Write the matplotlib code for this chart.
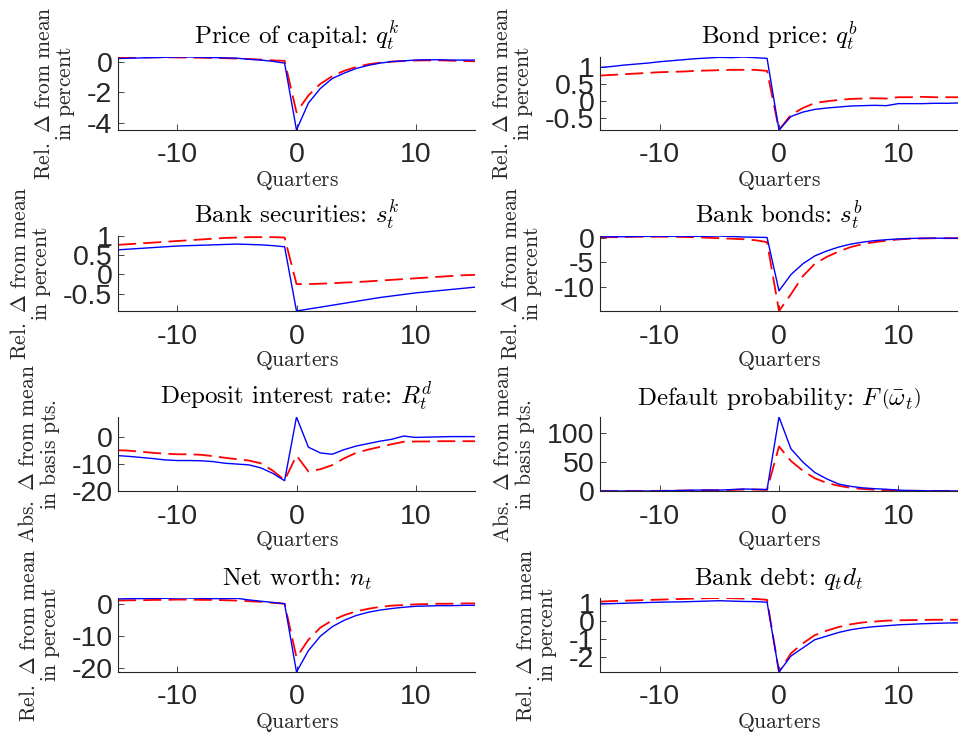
import numpy as np
import matplotlib
matplotlib.use("Agg")
import matplotlib.pyplot as plt

plt.rcParams['mathtext.fontset'] = 'cm'
plt.rcParams['axes.unicode_minus'] = False

quarters = list(range(-15, 16))

qk_blue = [0.2, 0.22, 0.24, 0.26, 0.28, 0.3, 0.3, 0.28, 0.26, 0.24, 0.22, 0.15, 0.1, 0.02, -0.1,
           -4.45, -2.7, -1.75, -1.1, -0.75, -0.45, -0.25, -0.1, 0.0, 0.05, 0.1, 0.12, 0.12, 0.1, 0.1, 0.1]
qk_red = [0.28, 0.28, 0.28, 0.28, 0.28, 0.27, 0.26, 0.25, 0.24, 0.22, 0.2, 0.17, 0.13, 0.08, 0.05,
          -3.3, -2.2, -1.45, -0.95, -0.6, -0.35, -0.18, -0.07, 0.0, 0.04, 0.07, 0.08, 0.08, 0.06, 0.04, 0.02]

qb_blue = [1.0, 1.03, 1.07, 1.1, 1.13, 1.17, 1.2, 1.23, 1.26, 1.28, 1.3, 1.29, 1.31, 1.29, 1.27,
           -0.85, -0.45, -0.32, -0.24, -0.2, -0.17, -0.14, -0.13, -0.12, -0.13, -0.07, -0.07, -0.07, -0.06, -0.06, -0.05]
qb_red = [0.76, 0.78, 0.8, 0.82, 0.84, 0.86, 0.87, 0.88, 0.9, 0.91, 0.92, 0.93, 0.93, 0.93, 0.9,
          -0.85, -0.4, -0.2, -0.05, 0.0, 0.04, 0.07, 0.08, 0.09, 0.08, 0.12, 0.12, 0.13, 0.12, 0.12, 0.12]

sk_blue = [0.64, 0.66, 0.68, 0.7, 0.72, 0.74, 0.75, 0.76, 0.77, 0.78, 0.79, 0.78, 0.77, 0.75, 0.72,
           -0.95, -0.9, -0.85, -0.8, -0.75, -0.7, -0.65, -0.6, -0.56, -0.52, -0.48, -0.45, -0.42, -0.39, -0.36, -0.33]
sk_red = [0.77, 0.79, 0.81, 0.83, 0.85, 0.87, 0.89, 0.91, 0.93, 0.95, 0.96, 0.97, 0.97, 0.97, 0.96,
          -0.25, -0.25, -0.24, -0.23, -0.21, -0.2, -0.18, -0.16, -0.14, -0.12, -0.1, -0.08, -0.06, -0.04, -0.02, -0.01]

sb_blue = [0.2, 0.2, 0.2, 0.25, 0.3, 0.3, 0.3, 0.3, 0.3, 0.3, 0.35, 0.25, 0.15, 0.1, 0.05,
           -10.8, -7.5, -5.3, -3.7, -2.7, -1.9, -1.3, -0.9, -0.6, -0.4, -0.25, -0.15, -0.1, -0.1, -0.1, -0.1]
sb_red = [0.1, 0.1, 0.15, 0.2, 0.2, 0.2, 0.2, 0.15, 0.1, 0.0, -0.1, -0.2, -0.3, -0.5, -0.9,
          -14.9, -11.5, -7.8, -5.3, -3.9, -2.8, -1.9, -1.3, -0.9, -0.6, -0.35, -0.2, -0.15, -0.1, -0.1, -0.1]

rd_blue = [-7.0, -7.3, -7.7, -8.1, -8.6, -8.8, -8.8, -8.9, -9.2, -9.8, -10.1, -10.4, -11.5, -13.5, -16.2,
           7.2, -3.9, -6.0, -6.5, -4.8, -3.5, -2.6, -1.7, -1.0, 0.2, -0.3, -0.2, -0.1, 0.0, 0.0, 0.0]
rd_red = [-5.0, -5.2, -5.6, -6.0, -6.3, -6.5, -6.5, -6.7, -7.2, -7.8, -8.3, -8.8, -9.8, -12.5, -16.0,
          -7.0, -12.8, -12.0, -10.5, -8.0, -6.0, -4.8, -3.8, -2.8, -1.9, -1.8, -1.8, -1.7, -1.7, -1.7, -1.7]

dp_blue = [0, 0, 0, 0, 0, 0.3, 0.6, 1.0, 1.5, 1.8, 1.5, 2.5, 3.5, 3.0, 2.5,
           128, 73, 50, 32, 21, 12, 8, 5.5, 4, 3, 1.5, 0.8, 0.5, 0.3, 0.2, 0.1]
dp_red = [0, 0, 0, 0, 0, 0.3, 0.5, 0.8, 1.0, 1.2, 1.3, 1.8, 2.5, 2.5, 2.0,
          77, 52, 35, 22, 14, 9, 5.5, 3.5, 2.2, 1.3, 0.8, 0.5, 0.3, 0.2, 0.1, 0.0]

nw_blue = [1.5, 1.6, 1.6, 1.7, 1.7, 1.8, 1.8, 1.7, 1.6, 1.6, 1.7, 1.2, 0.8, 0.4, 0.0,
           -21.4, -14.7, -10.2, -7.2, -5.2, -3.7, -2.7, -2.0, -1.5, -1.1, -0.8, -0.7, -0.6, -0.6, -0.5, -0.5]
nw_red = [1.0, 1.1, 1.1, 1.2, 1.2, 1.3, 1.3, 1.2, 1.2, 1.1, 1.0, 0.8, 0.6, 0.3, 0.0,
          -16.8, -11.3, -7.5, -5.2, -3.6, -2.4, -1.6, -1.0, -0.6, -0.4, -0.2, -0.1, 0.0, 0.0, 0.1, 0.1]

bd_blue = [0.92, 0.94, 0.96, 0.98, 1.0, 1.02, 1.03, 1.04, 1.06, 1.08, 1.1, 1.08, 1.06, 1.05, 1.02,
           -2.83, -1.95, -1.5, -1.05, -0.85, -0.65, -0.5, -0.4, -0.33, -0.28, -0.23, -0.2, -0.17, -0.15, -0.13, -0.12]
bd_red = [1.05, 1.08, 1.1, 1.12, 1.14, 1.16, 1.18, 1.2, 1.22, 1.24, 1.25, 1.24, 1.22, 1.2, 1.15,
          -2.83, -1.8, -1.25, -0.8, -0.55, -0.35, -0.2, -0.1, -0.05, 0.0, 0.02, 0.03, 0.04, 0.05, 0.05, 0.05]

titles = [r'Price of capital: $q_t^k$', r'Bond price: $q_t^b$',
          r'Bank securities: $s_t^k$', r'Bank bonds: $s_t^b$',
          r'Deposit interest rate: $R_t^d$',
          r'Default probability: $F\,\left(\bar{\omega}_t\right)$',
          r'Net worth: $n_t$', r'Bank debt: $q_t d_t$']
rel_label = r'$\mathrm{Rel.\ \Delta\ from\ mean}$' + '\n' + r'$\mathrm{in\ percent}$'
abs_label = r'$\mathrm{Abs.\ \Delta\ from\ mean}$' + '\n' + r'$\mathrm{in\ basis\ pts.}$'
ylabels = [rel_label, rel_label, rel_label, rel_label, abs_label, abs_label, rel_label, rel_label]
series = [(qk_blue, qk_red), (qb_blue, qb_red), (sk_blue, sk_red), (sb_blue, sb_red),
          (rd_blue, rd_red), (dp_blue, dp_red), (nw_blue, nw_red), (bd_blue, bd_red)]
yticks = [[-4, -2, 0], [-0.5, 0, 0.5, 1], [-0.5, 0, 0.5, 1], [-10, -5, 0],
          [-20, -10, 0], [0, 50, 100], [-20, -10, 0], [-2, -1, 0, 1]]
xticks = [-10, 0, 10]

W, H = 958, 740
fig = plt.figure(figsize=(W / 100, H / 100), dpi=100)
lefts = [118, 600]
widths = [357, 358]
row_tops = [57, 236, 417, 598]
row_bots = [130, 311, 491, 672]

gray = '#262626'
for i in range(8):
    r, c = divmod(i, 2)
    ax = fig.add_axes([lefts[c] / W, 1 - row_bots[r] / H, widths[c] / W, (row_bots[r] - row_tops[r]) / H])
    b, rd = series[i]
    ax.plot(quarters, rd, color='red', lw=1.3, dashes=(10, 4))
    ax.plot(quarters, b, color='blue', lw=1.0)
    ax.set_xlim(-15, 15)
    lo = min(min(b), min(rd)); hi = max(max(b), max(rd))
    ax.set_ylim(lo, hi)
    ax.set_xticks(xticks)
    ax.set_yticks(yticks[i])
    ax.set_yticklabels([('%g' % v) for v in yticks[i]])
    for s in ['top', 'right']:
        ax.spines[s].set_visible(False)
    for s in ['left', 'bottom']:
        ax.spines[s].set_color(gray)
        ax.spines[s].set_linewidth(0.8)
    ax.tick_params(direction='in', length=4, width=0.6, colors=gray, labelsize=20.5)
    ax.tick_params(axis='x', pad=9)
    ax.tick_params(axis='y', pad=4)
    for lab in ax.get_xticklabels() + ax.get_yticklabels():
        lab.set_fontfamily('Liberation Sans')
    ax.set_title(titles[i], fontsize=18, color='black', pad=9, fontfamily='cmr10')
    ax.set_xlabel(r'$\mathrm{Quarters}$', fontsize=15.5, color=gray, labelpad=0)
    ax.set_ylabel(ylabels[i], fontsize=15.5, color=gray, labelpad=7, linespacing=1.0)
    ax.patch.set_alpha(0)

fig.savefig('out.png', dpi=100)
